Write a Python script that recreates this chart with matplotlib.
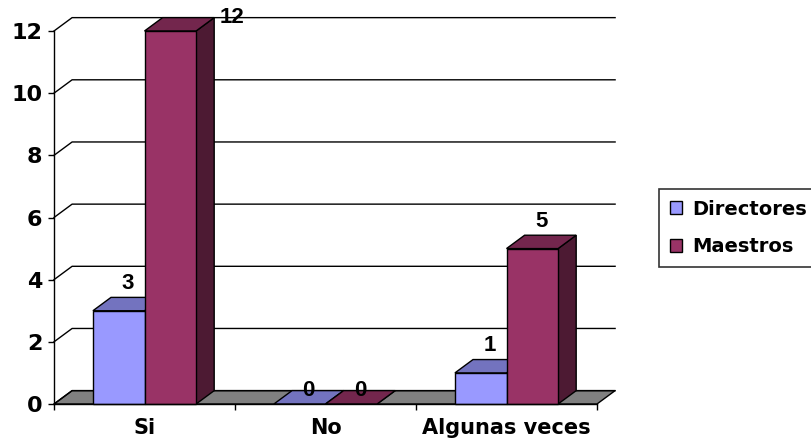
import numpy as np
import matplotlib.pyplot as plt
from matplotlib.patches import Polygon, Patch

plt.rcParams['font.family'] = ['DejaVu Sans']
plt.rcParams['font.weight'] = 'bold'

categorias = ['Si', 'No', 'Algunas veces']
series = ['Directores', 'Maestros']
directores = [3, 0, 1]
maestros = [12, 0, 5]
yticks = [0, 2, 4, 6, 8, 10, 12]

# colores: frente, arriba, lado
colores = {
    'Directores': ('#9999ff', '#7373bf', '#4d4d80'),
    'Maestros': ('#993366', '#73264d', '#4d1a33'),
}
etiqueta_font = ['Liberation Sans', 'DejaVu Sans']

fig = plt.figure(figsize=(8.11, 4.44), dpi=100)
ax = fig.add_axes([54 / 811, 1 - 404 / 444, 543 / 811, 373 / 444])
ax.set_xlim(0, 3)
ax.set_ylim(0, 12)
ax.patch.set_visible(False)

dx = 0.1    # profundidad en unidades de categoria
dy = 0.43   # profundidad en unidades de valor
w = 0.285
ymax = yticks[-1]
ncat = len(categorias)
lw = 1.0


def poly(pts, fc, z):
    ax.add_patch(Polygon(pts, closed=True, facecolor=fc, edgecolor='black',
                         linewidth=lw, zorder=z, clip_on=False))


# piso
poly([(0, 0), (ncat, 0), (ncat + dx, dy), (dx, dy)], '#808080', 1)

# lineas de division (pared trasera y lateral)
for v in yticks:
    ax.plot([0, dx, ncat + dx], [v, v + dy, v + dy], color='black',
            linewidth=lw, zorder=2, clip_on=False)


def barra(x0, v, nombre, z):
    fc, tc, sc = colores[nombre]
    x1 = x0 + w
    poly([(x1, 0), (x1 + dx, dy), (x1 + dx, v + dy), (x1, v)], sc, z)
    poly([(x0, v), (x1, v), (x1 + dx, v + dy), (x0 + dx, v + dy)], tc, z)
    if v > 0:
        poly([(x0, 0), (x1, 0), (x1, v), (x0, v)], fc, z)
    # etiqueta
    kw = dict(fontsize=16, fontweight='bold', family=etiqueta_font,
              zorder=10, annotation_clip=False)
    if v == 0:
        ax.annotate(str(v), (x0 + w / 2 + dx / 2, v + dy), ha='center',
                    va='center', **kw)
    elif v >= ymax:
        ax.annotate(str(v), (x1 + dx, v + dy), xytext=(4, 0),
                    textcoords='offset points', ha='left', va='center', **kw)
    else:
        ax.annotate(str(v), (x0 + w / 2 + dx / 2, v + dy), xytext=(0, 6),
                    textcoords='offset points', ha='center', va='baseline',
                    **kw)


z = 3
for i in range(ncat):
    c = i + 0.5
    barra(c - w, directores[i], 'Directores', z)
    barra(c, maestros[i], 'Maestros', z + 1)
    z += 2

# ejes
for s in ['top', 'right']:
    ax.spines[s].set_visible(False)
ax.spines['left'].set_zorder(20)
ax.spines['bottom'].set_zorder(20)
ax.spines['left'].set_linewidth(lw)
ax.spines['bottom'].set_linewidth(lw)

ax.set_yticks(yticks)
ax.set_yticklabels([str(v) for v in yticks], fontsize=16, fontweight='bold')
ax.tick_params(axis='y', direction='out', length=4.5, width=lw, pad=4)

ax.set_xticks(np.arange(ncat) + 0.5)
ax.set_xticklabels(categorias, fontsize=15, fontweight='bold')
ax.set_xticks(np.arange(ncat + 1), minor=True)
ax.tick_params(axis='x', which='major', length=0, pad=10)
ax.tick_params(axis='x', which='minor', direction='out', length=4.5, width=lw)

handles = [Patch(facecolor=colores[s][0], edgecolor='black', linewidth=lw)
           for s in series]
leg = fig.legend(handles, series, loc='upper left',
                 bbox_to_anchor=(659 / 811, 1 - 189 / 444),
                 fontsize=14, frameon=True, fancybox=False,
                 handlelength=0.65, handleheight=0.65, handletextpad=0.5,
                 labelspacing=0.95, borderpad=0.55, borderaxespad=0)
leg.get_frame().set_edgecolor('black')
leg.get_frame().set_linewidth(1.2)
for t in leg.get_texts():
    t.set_fontweight('bold')

fig.savefig('out.png', dpi=100)
